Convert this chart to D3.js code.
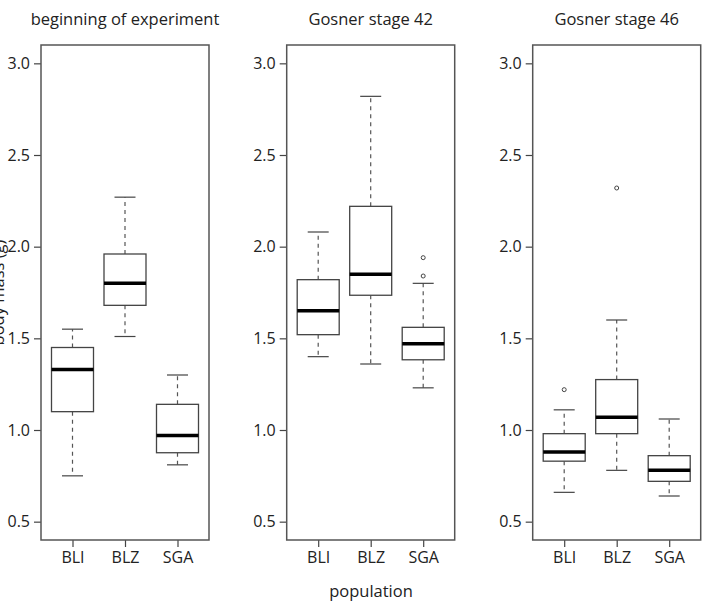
<!DOCTYPE html>
<html><head><meta charset="utf-8">
<script src="https://cdn.jsdelivr.net/npm/d3@7"></script>
<style>body{margin:0;background:#fff}text{font-family:"Open Sans",sans-serif;fill:#222}</style>
</head><body><svg id="c" width="708" height="607"></svg>
<script>
const panels = ["beginning of experiment", "Gosner stage 42", "Gosner stage 46"];
const categories = ["BLI", "BLZ", "SGA"];
const yTicks = [0.5, 1.0, 1.5, 2.0, 2.5, 3.0];
// [low whisker, Q1, median, Q3, high whisker]
const statsStart = [[0.75, 1.10, 1.33, 1.45, 1.55], [1.51, 1.68, 1.80, 1.96, 2.27], [0.81, 0.876, 0.97, 1.14, 1.30]];
const statsG42 = [[1.40, 1.52, 1.65, 1.82, 2.08], [1.36, 1.735, 1.85, 2.22, 2.82], [1.23, 1.383, 1.47, 1.56, 1.80]];
const statsG46 = [[0.66, 0.83, 0.88, 0.98, 1.11], [0.78, 0.98, 1.07, 1.275, 1.60], [0.64, 0.72, 0.78, 0.86, 1.06]];
const outStart = [[], [], []];
const outG42 = [[], [], [1.84, 1.94]];
const outG46 = [[1.22], [2.32], []];
const allStats = [statsStart, statsG42, statsG46];
const allOut = [outStart, outG42, outG46];

const svg = d3.select("#c");
const lefts = [41, 286.7, 532.7], pw = 168;
const plotTop = 45, plotBottom = 540;
const y = d3.scaleLinear().domain([0.4, 3.1]).range([plotBottom, plotTop]);

panels.forEach((title, p) => {
  const L = lefts[p];
  const x = d3.scaleLinear().domain([0.4, 3.6]).range([L, L + pw]);
  const g = svg.append("g");
  const unit = x(2) - x(1);
  const hw = unit * 0.4, cw = unit * 0.2;

  const ya = d3.axisLeft(y).tickValues(yTicks).tickFormat(d3.format(".1f")).tickSize(7).tickPadding(4);
  const yg = g.append("g").attr("transform", `translate(${L},0)`).call(ya);
  const xa = d3.axisBottom(x).tickValues([1, 2, 3]).tickFormat(i => categories[i - 1]).tickSize(7).tickPadding(5);
  const xg = g.append("g").attr("transform", `translate(0,${plotBottom})`).call(xa);
  [yg, xg].forEach(a => {
    a.select(".domain").remove();
    a.attr("font-size", 16).attr("font-family", '"Open Sans",sans-serif');
    a.selectAll("line").attr("stroke", "#444").attr("stroke-width", 1.2);
    a.selectAll("text").attr("fill", "#222");
  });

  g.append("rect").attr("x", L).attr("y", plotTop).attr("width", pw).attr("height", plotBottom - plotTop)
    .attr("fill", "none").attr("stroke", "#555").attr("stroke-width", 1.5);

  g.append("text").attr("x", L + pw / 2).attr("y", 25).attr("text-anchor", "middle")
    .attr("font-size", 16.5).text(title);

  allStats[p].forEach((s, i) => {
    const cx = x(i + 1);
    const [lo, q1, md, q3, hi] = s;
    g.append("line").attr("x1", cx).attr("x2", cx).attr("y1", y(q3)).attr("y2", y(hi))
      .attr("stroke", "#555").attr("stroke-width", 1.2).attr("stroke-dasharray", "4,4");
    g.append("line").attr("x1", cx).attr("x2", cx).attr("y1", y(q1)).attr("y2", y(lo))
      .attr("stroke", "#555").attr("stroke-width", 1.2).attr("stroke-dasharray", "4,4");
    [lo, hi].forEach(v => g.append("line").attr("x1", cx - cw).attr("x2", cx + cw)
      .attr("y1", y(v)).attr("y2", y(v)).attr("stroke", "#444").attr("stroke-width", 1.2));
    g.append("rect").attr("x", cx - hw).attr("width", 2 * hw).attr("y", y(q3)).attr("height", y(q1) - y(q3))
      .attr("fill", "#fff").attr("stroke", "#444").attr("stroke-width", 1.3);
    g.append("line").attr("x1", cx - hw).attr("x2", cx + hw).attr("y1", y(md)).attr("y2", y(md))
      .attr("stroke", "#000").attr("stroke-width", 3.5);
    allOut[p][i].forEach(v => g.append("circle").attr("cx", cx).attr("cy", y(v)).attr("r", 2)
      .attr("fill", "none").attr("stroke", "#444").attr("stroke-width", 1));
  });
});

svg.append("text").attr("x", 371).attr("y", 597).attr("text-anchor", "middle").attr("font-size", 16.5).text("population");
svg.append("text").attr("transform", `translate(4,${(plotTop + plotBottom) / 2}) rotate(-90)`).attr("text-anchor", "middle")
  .attr("font-size", 16.5).text("body mass (g)");
</script></body></html>
